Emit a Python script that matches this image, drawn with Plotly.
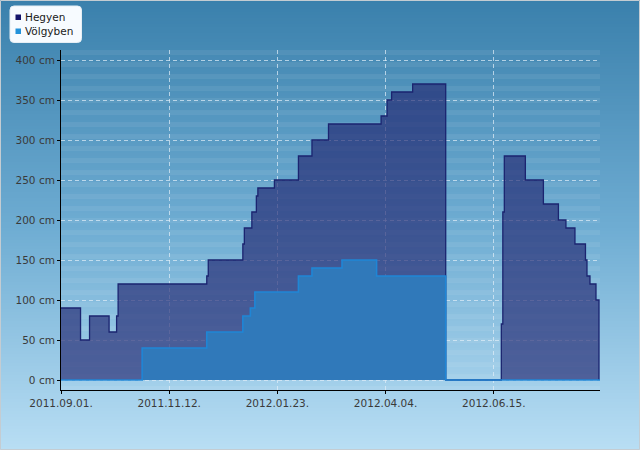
import plotly.graph_objects as go

# ---------------- data ----------------
hegyen_dates = [
    "2011-09-01", "2011-09-14", "2011-09-20", "2011-10-03", "2011-10-08", "2011-10-09",
    "2011-12-07", "2011-12-08", "2011-12-31", "2012-01-01", "2012-01-06", "2012-01-09",
    "2012-01-10", "2012-01-21", "2012-02-06", "2012-02-15", "2012-02-26", "2012-04-01",
    "2012-04-05", "2012-04-08", "2012-04-22", "2012-05-14", "2012-06-20", "2012-06-21",
    "2012-06-22", "2012-07-06", "2012-07-18", "2012-07-28", "2012-08-02", "2012-08-08",
    "2012-08-15", "2012-08-16", "2012-08-18", "2012-08-22", "2012-08-24",
]
hegyen_cm = [
    90, 50, 80, 60, 80, 120,
    130, 150, 170, 190, 210, 230,
    240, 250, 280, 300, 320, 330,
    350, 360, 370, 0, 70, 210,
    280, 250, 220, 200, 190, 170,
    150, 130, 120, 100, 0,
]

volgy_dates = [
    "2011-09-01", "2011-10-25", "2011-12-07", "2011-12-31", "2012-01-05", "2012-01-08",
    "2012-02-06", "2012-02-15", "2012-03-06", "2012-03-29", "2012-05-14", "2012-08-26",
]
volgy_cm = [0, 40, 60, 80, 90, 110, 130, 140, 150, 130, 0, 0]

x_tick_dates = ["2011-09-01", "2011-11-12", "2012-01-23", "2012-04-04", "2012-06-15"]
x_tick_labels = ["2011.09.01.", "2011.11.12.", "2012.01.23.", "2012.04.04.", "2012.06.15."]
y_tick_values = [0, 50, 100, 150, 200, 250, 300, 350, 400]
y_tick_labels = [f"{v} cm" for v in y_tick_values]

series_names = ["Hegyen", "Völgyben"]

# ---------------- geometry helpers (pixel -> paper) ----------------
W, H = 640, 450
ML, MR, MT, MB = 61, 40, 50, 60
PW, PH = W - ML - MR, H - MT - MB


def px(x):
    return (x - ML) / PW


def py(y):
    return (H - MB - y) / PH


def lerp(c1, c2, t):
    return tuple(round(a + (b - a) * t) for a, b in zip(c1, c2))


shapes = []
# background vertical gradient over the whole figure
top_c, mid_c, bot_c = (58, 128, 172), (110, 172, 210), (184, 222, 244)
step = 3
for i in range(0, H, step):
    t = (i + step / 2) / H
    if t < 0.5:
        c = lerp(top_c, mid_c, t / 0.5)
    else:
        c = lerp(mid_c, bot_c, (t - 0.5) / 0.5)
    shapes.append(dict(type="rect", xref="paper", yref="paper", layer="below",
                       x0=px(0), x1=px(W), y0=py(i + step + 0.5), y1=py(i),
                       fillcolor="rgb(%d,%d,%d)" % c, line=dict(width=0)))
# light stripes inside the plot area
y = MT
while y < H - MB:
    shapes.append(dict(type="rect", xref="paper", yref="paper", layer="below",
                       x0=0, x1=1, y0=py(min(y + 5, H - MB)), y1=py(y),
                       fillcolor="rgba(255,255,255,0.065)", line=dict(width=0)))
    y += 12

# outer frame
shapes.append(dict(type="rect", xref="paper", yref="paper", layer="above",
                   x0=px(0.5), x1=px(W - 0.5), y0=py(H - 0.5), y1=py(0.5),
                   line=dict(color="#c4ccd2", width=1), fillcolor="rgba(0,0,0,0)"))

# legend box (rounded)
lx0, ly0, lx1, ly1, r = 10, 6, 81.5, 42.5, 4
path = (f"M {px(lx0 + r)},{py(ly0)} L {px(lx1 - r)},{py(ly0)} "
        f"Q {px(lx1)},{py(ly0)} {px(lx1)},{py(ly0 + r)} "
        f"L {px(lx1)},{py(ly1 - r)} Q {px(lx1)},{py(ly1)} {px(lx1 - r)},{py(ly1)} "
        f"L {px(lx0 + r)},{py(ly1)} Q {px(lx0)},{py(ly1)} {px(lx0)},{py(ly1 - r)} "
        f"L {px(lx0)},{py(ly0 + r)} Q {px(lx0)},{py(ly0)} {px(lx0 + r)},{py(ly0)} Z")
shapes.append(dict(type="path", xref="paper", yref="paper", layer="above", path=path,
                   fillcolor="#f7fbff", line=dict(color="#e6eef4", width=1)))
legend_colors = ["#14146a", "#2392da"]
legend_y = [17, 31]
for col, yy in zip(legend_colors, legend_y):
    shapes.append(dict(type="rect", xref="paper", yref="paper", layer="above",
                       x0=px(15.5), x1=px(21), y0=py(yy + 3), y1=py(yy - 2.5),
                       fillcolor=col, line=dict(width=0)))

annotations = []
for name, yy in zip(series_names, legend_y):
    annotations.append(dict(xref="paper", yref="paper", x=px(22.5), y=py(yy),
                            xanchor="left", yanchor="middle", text=name, showarrow=False,
                            font=dict(family="DejaVu Sans", size=10.5, color="#1a1a1a")))

fig = go.Figure()
fig.add_trace(go.Scatter(
    x=hegyen_dates, y=hegyen_cm, name=series_names[0], mode="lines",
    line=dict(shape="hv", color="#1b2470", width=1.3),
    fill="tozeroy", fillcolor="rgba(33,38,112,0.66)", showlegend=False))
fig.add_trace(go.Scatter(
    x=volgy_dates, y=volgy_cm, name=series_names[1], mode="lines",
    line=dict(shape="hv", color="#1f86d6", width=1.6),
    fill="tozeroy", fillcolor="rgb(48,121,186)", showlegend=False))

axis_font = dict(family="DejaVu Sans", size=10.5, color="#3a3a3a")
grid_col = "rgba(225,238,248,0.7)"
fig.update_layout(
    width=W, height=H,
    margin=dict(l=ML, r=MR, t=MT, b=MB, pad=0),
    paper_bgcolor="#7ab0d1", plot_bgcolor="rgba(0,0,0,0)",
    showlegend=False,
    font=dict(family="DejaVu Sans"),
    shapes=shapes, annotations=annotations,
    xaxis=dict(type="date", range=["2011-09-01", "2012-08-24 16:00"],
               tickvals=x_tick_dates, ticktext=x_tick_labels,
               showline=True, linecolor="black", linewidth=1,
               ticks="outside", ticklen=3, tickcolor="black",
               showgrid=True, gridcolor=grid_col, griddash="4px,3px", gridwidth=1,
               zeroline=False, tickfont=axis_font),
    yaxis=dict(range=[-12.5, 412.5], tickvals=y_tick_values, ticktext=y_tick_labels,
               showline=True, linecolor="black", linewidth=1,
               ticks="outside", ticklen=3, tickcolor="black",
               showgrid=True, gridcolor=grid_col, griddash="4px,3px", gridwidth=1,
               zeroline=False, tickfont=axis_font),
)

fig.write_html("out.html")
